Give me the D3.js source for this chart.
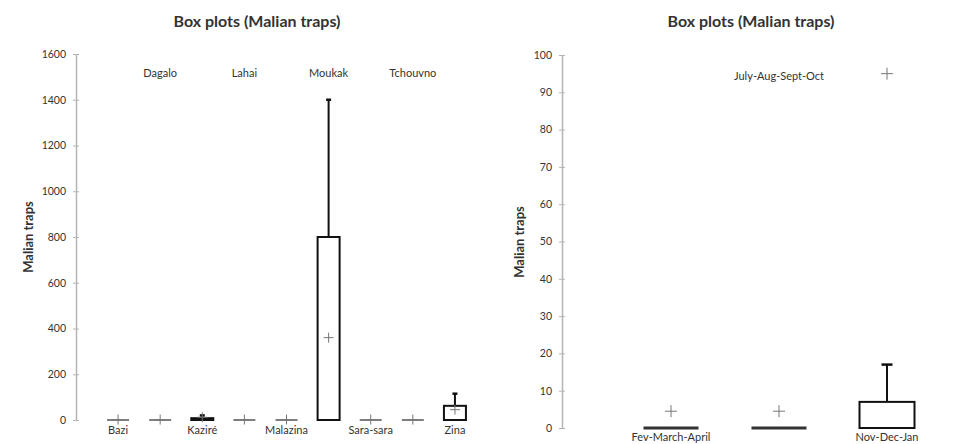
<!DOCTYPE html>
<html>
<head>
<meta charset="utf-8">
<script src="https://cdn.jsdelivr.net/npm/d3@7"></script>
<style>
  body { margin: 0; background: #fff; }
  svg { display: block; }
  text { font-family: Lato, "Open Sans", sans-serif; fill: #333; }
</style>
</head>
<body>
<svg id="chart" width="966" height="444"></svg>
<script>
// ---------- Data: left panel (sites) ----------
const sites = ["Bazi", "Dagalo", "Kaziré", "Lahai", "Malazina", "Moukak", "Sara-sara", "Tchouvno", "Zina"];
const siteQ1 = [0, 0, 0, 0, 0, 0, 0, 0, 0];
const siteQ3 = [0, 0, 8, 0, 0, 800, 0, 0, 62];
const siteMax = [0, 0, 20, 0, 0, 1400, 0, 0, 115];
const siteMean = [2, 2, 12, 2, 2, 360, 2, 2, 45];
const siteTicks = [0, 200, 400, 600, 800, 1000, 1200, 1400, 1600];

// ---------- Data: right panel (seasons) ----------
const seasons = ["Fev-March-April", "July-Aug-Sept-Oct", "Nov-Dec-Jan"];
const seasonQ1 = [0, 0, 0];
const seasonQ3 = [0, 0, 7];
const seasonMax = [0, 0, 17];
const seasonMean = [4.5, 4.5, null];
const seasonExtreme = [null, null, 95];
const seasonTicks = [0, 10, 20, 30, 40, 50, 60, 70, 80, 90, 100];

const titleText = "Box plots (Malian traps)";
const yLabelText = "Malian traps";

const svg = d3.select("#chart");

function plus(g, x, y, size, color) {
  g.append("line").attr("x1", x - size / 2).attr("x2", x + size / 2).attr("y1", y).attr("y2", y)
    .attr("stroke", color).attr("stroke-width", 1);
  g.append("line").attr("x1", x).attr("x2", x).attr("y1", y - size / 2).attr("y2", y + size / 2)
    .attr("stroke", color).attr("stroke-width", 1);
}

function panel(opts) {
  const g = svg.append("g");
  const y = d3.scaleLinear().domain(opts.domain).range([opts.y0, opts.y1]);
  const x = d3.scaleBand().domain(opts.cats).range(opts.xRange);

  // axis
  const axis = d3.axisLeft(y).tickValues(opts.ticks).tickFormat(d3.format("d")).tickSize(0).tickPadding(0);
  const ag = g.append("g").attr("transform", `translate(${opts.axisX},0)`).call(axis);
  ag.select(".domain").attr("stroke", "#b5b5b5").attr("stroke-width", 1.5);
  ag.selectAll(".tick line").remove();
  ag.selectAll(".tick").append("line").attr("x1", -3).attr("x2", 3).attr("stroke", "#b5b5b5").attr("stroke-width", 1);
  ag.selectAll(".tick text").attr("x", -10).attr("dy", "0.32em")
    .style("font-size", "10.5px").style("font-family", "Lato, sans-serif").attr("fill", "#444");

  // title
  g.append("text").attr("x", opts.titleX).attr("y", 27).attr("text-anchor", "middle")
    .style("font-size", "16px").style("font-weight", "bold").attr("fill", "#222").text(titleText);
  // y label
  g.append("text").attr("transform", `translate(${opts.yLabelX},${opts.yLabelY}) rotate(-90)`)
    .attr("text-anchor", "middle").style("font-size", "13px").style("font-weight", "bold").attr("fill", "#222")
    .text(yLabelText);

  const bw = opts.boxW;
  opts.cats.forEach((c, i) => {
    const cx = x(c) + x.bandwidth() / 2;
    const q1 = opts.q1[i], q3 = opts.q3[i], mx = opts.max[i];
    // whisker
    if (mx > q3) {
      g.append("line").attr("x1", cx).attr("x2", cx).attr("y1", y(q3)).attr("y2", y(mx))
        .attr("stroke", "#111").attr("stroke-width", 2);
      g.append("line").attr("x1", cx - opts.capW / 2).attr("x2", cx + opts.capW / 2).attr("y1", y(mx)).attr("y2", y(mx))
        .attr("stroke", "#111").attr("stroke-width", 2.5);
    }
    if (q3 > q1) {
      g.append("rect").attr("x", cx - bw / 2).attr("width", bw).attr("y", y(q3)).attr("height", y(q1) - y(q3))
        .attr("fill", "none").attr("stroke", "#111").attr("stroke-width", 2);
    } else {
      g.append("line").attr("x1", cx - bw / 2).attr("x2", cx + bw / 2).attr("y1", y(q1)).attr("y2", y(q1))
        .attr("stroke", opts.flatColor).attr("stroke-width", opts.flatW);
    }
    if (opts.mean[i] != null) plus(g, cx, y(opts.mean[i]), opts.plusSize, "#777");
    if (opts.extreme && opts.extreme[i] != null) plus(g, cx, y(opts.extreme[i]), opts.plusSize, "#777");
    // labels
    const top = opts.topIdx(i);
    g.append("text").attr("x", cx).attr("y", top ? opts.topLabelY : opts.botLabelY)
      .attr("text-anchor", "middle").style("font-size", "11px").attr("fill", "#333").text(c);
  });
}

panel({
  cats: sites, q1: siteQ1, q3: siteQ3, max: siteMax, mean: siteMean, ticks: siteTicks,
  domain: [0, 1600], y0: 420, y1: 54, axisX: 76, xRange: [97, 476],
  titleX: 257, yLabelX: 33, yLabelY: 237, boxW: 22, capW: 5, plusSize: 10,
  flatColor: "#555", flatW: 1.5, topLabelY: 77, botLabelY: 434,
  topIdx: i => i % 2 === 1
});

panel({
  cats: seasons, q1: seasonQ1, q3: seasonQ3, max: seasonMax, mean: seasonMean, extreme: seasonExtreme,
  ticks: seasonTicks,
  domain: [0, 100], y0: 428, y1: 55, axisX: 562, xRange: [617, 941],
  titleX: 751, yLabelX: 524, yLabelY: 242, boxW: 55, capW: 11, plusSize: 12,
  flatColor: "#333", flatW: 3, topLabelY: 80, botLabelY: 441,
  topIdx: i => i === 1
});
</script>
</body>
</html>
